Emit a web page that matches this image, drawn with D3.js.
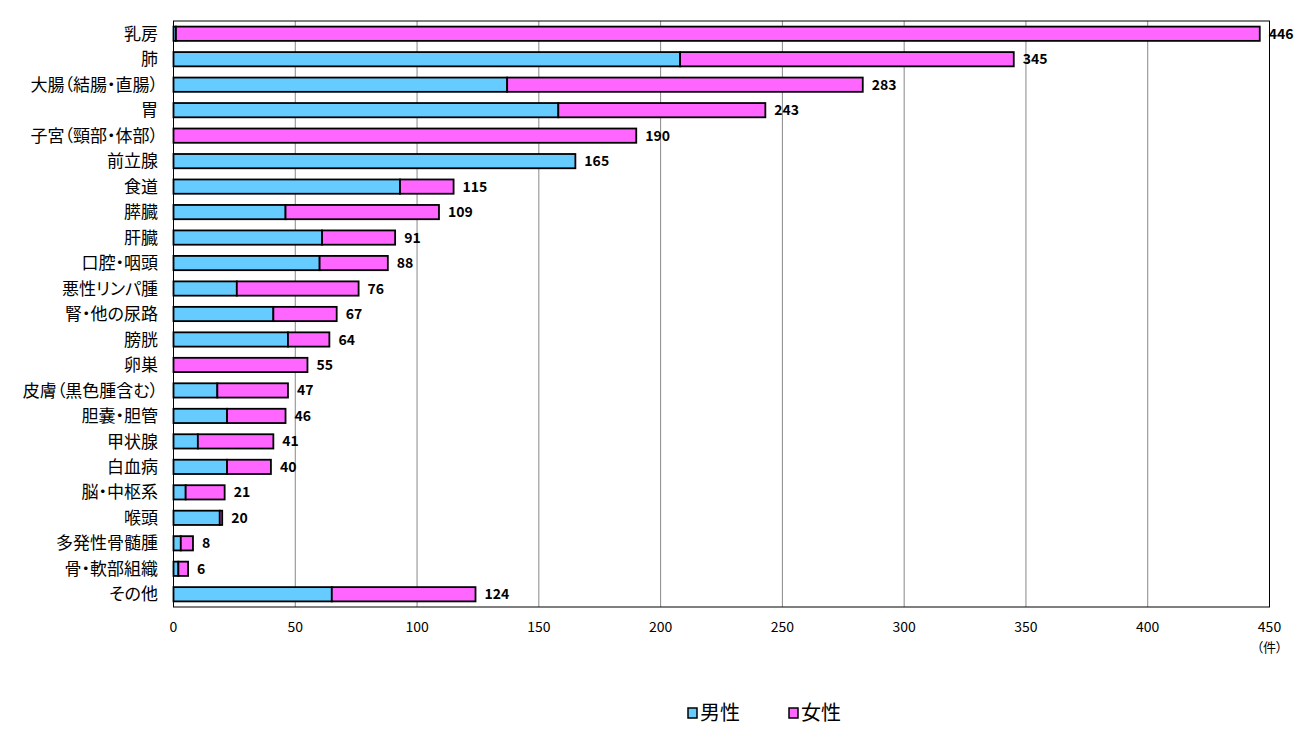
<!DOCTYPE html>
<html>
<head>
<meta charset="utf-8">
<script src="https://cdn.jsdelivr.net/npm/d3@7"></script>
<style>
  body { margin: 0; background: #fff; }
  svg text { font-family: "Noto Sans CJK JP", sans-serif; fill: #000; }
  .cat { font-feature-settings: "palt"; }
</style>
</head>
<body>
<div id="chart"></div>
<script>
const categories = ['乳房', '肺', '大腸（結腸・直腸）', '胃', '子宮（頸部・体部）', '前立腺', '食道', '膵臓',
  '肝臓', '口腔・咽頭', '悪性リンパ腫', '腎・他の尿路', '膀胱', '卵巣', '皮膚（黒色腫含む）', '胆嚢・胆管',
  '甲状腺', '白血病', '脳・中枢系', '喉頭', '多発性骨髄腫', '骨・軟部組織', 'その他'];
const maleValues = [1, 208, 137, 158, 0, 165, 93, 46, 61, 60, 26, 41, 47, 0, 18, 22, 10, 22, 5, 19, 3, 2, 65];
const femaleValues = [445, 137, 146, 85, 190, 0, 22, 63, 30, 28, 50, 26, 17, 55, 29, 24, 31, 18, 16, 1, 5, 4, 59];
const seriesNames = ['男性', '女性'];
const xTicks = [0, 50, 100, 150, 200, 250, 300, 350, 400, 450];

const width = 1302, height = 740;
const plot = { left: 173.5, right: 1269.5, top: 21, bottom: 607 };
const colors = { '男性': '#66ccff', '女性': '#ff66ff' };

const svg = d3.select('#chart').append('svg')
  .attr('width', width)
  .attr('height', height);

const x = d3.scaleLinear().domain([0, 450]).range([plot.left, plot.right]);
const y = d3.scaleBand().domain(categories).range([plot.top, plot.bottom])
  .paddingInner(0.44).paddingOuter(0.22);

// gridlines
svg.append('g').selectAll('line')
  .data(xTicks.slice(1, -1))
  .join('line')
  .attr('x1', d => x(d)).attr('x2', d => x(d))
  .attr('y1', plot.top).attr('y2', plot.bottom)
  .attr('stroke', '#888').attr('stroke-width', 1);

// stacked bars
const rows = categories.map((c, i) => ({ cat: c, male: maleValues[i], female: femaleValues[i] }));
const stack = d3.stack().keys(['male', 'female'])(rows);

svg.append('g').selectAll('g')
  .data(stack)
  .join('g')
  .attr('fill', (s, i) => colors[seriesNames[i]])
  .selectAll('rect')
  .data(s => s.filter(d => d[1] - d[0] > 0))
  .join('rect')
  .attr('x', d => x(d[0]))
  .attr('y', d => y(d.data.cat))
  .attr('width', d => x(d[1]) - x(d[0]))
  .attr('height', y.bandwidth())
  .attr('stroke', '#000')
  .attr('stroke-width', 1.8);

// total labels
svg.append('g').selectAll('text')
  .data(rows)
  .join('text')
  .attr('x', d => x(d.male + d.female) + 9)
  .attr('y', d => y(d.cat) + y.bandwidth() / 2)
  .attr('dy', '0.36em')
  .style('font-size', '14px')
  .style('font-weight', 'bold')
  .text(d => d.male + d.female);

// frame
svg.append('rect')
  .attr('x', plot.left).attr('y', plot.top)
  .attr('width', plot.right - plot.left).attr('height', plot.bottom - plot.top)
  .attr('fill', 'none').attr('stroke', '#000').attr('stroke-width', 1);

// category labels
svg.append('g').selectAll('text')
  .data(categories)
  .join('text')
  .attr('class', 'cat')
  .attr('x', 158)
  .attr('y', d => y(d) + y.bandwidth() / 2)
  .attr('dy', '0.36em')
  .attr('text-anchor', 'end')
  .style('font-size', '17px')
  .text(d => d);

// x tick labels
svg.append('g').selectAll('text')
  .data(xTicks)
  .join('text')
  .attr('x', d => x(d))
  .attr('y', 627)
  .attr('dy', '0.36em')
  .attr('text-anchor', 'middle')
  .style('font-size', '14px')
  .text(d => d);

svg.append('text')
  .attr('class', 'cat')
  .attr('x', x(450)).attr('y', 647).attr('dy', '0.36em')
  .attr('text-anchor', 'middle')
  .style('font-size', '13px')
  .text('（件）');

// legend
const legend = svg.append('g').selectAll('g')
  .data(seriesNames)
  .join('g')
  .attr('transform', (d, i) => `translate(${688 + i * 101}, 713)`);

legend.append('rect')
  .attr('x', 0).attr('y', -5)
  .attr('width', 9).attr('height', 10)
  .attr('fill', d => colors[d])
  .attr('stroke', '#000').attr('stroke-width', 1.5);

legend.append('text')
  .attr('x', 12).attr('y', 0).attr('dy', '0.36em')
  .style('font-size', '20px')
  .text(d => d);
</script>
</body>
</html>
